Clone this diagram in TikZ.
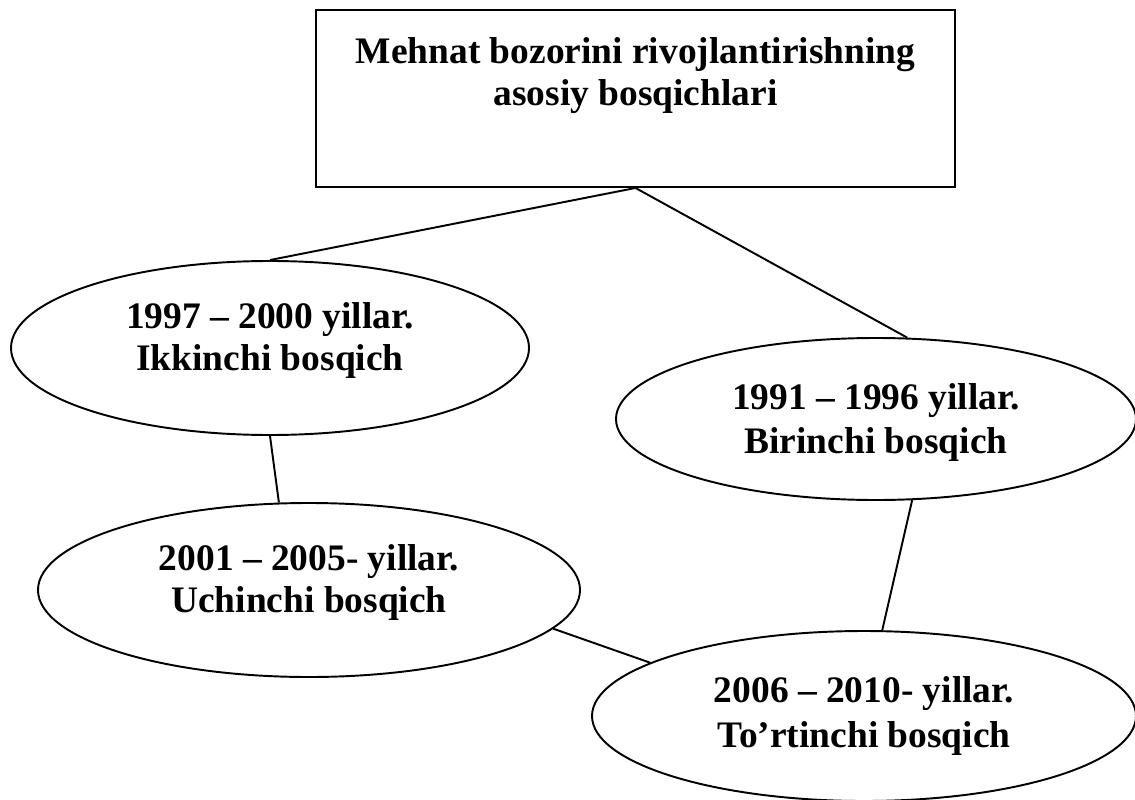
\documentclass[tikz,border=0pt]{standalone}
\usepackage{fontspec}
\setmainfont{Liberation Serif}
\usetikzlibrary{shapes.geometric}
\begin{document}
\begin{tikzpicture}[line width=1.1pt,
  stage/.style={ellipse,draw,inner sep=0pt,align=center,text depth=13pt,
    font=\bfseries\fontsize{21.3}{23.8}\selectfont}]
\useasboundingbox(0,0)rectangle(22.7,-16);
\node[draw,minimum width=12.78cm,minimum height=3.54cm,inner sep=0pt](frame)at(12.71,-1.97){};
\node[anchor=north,inner sep=0pt,align=center,font=\bfseries\fontsize{21.3}{23.6}\selectfont](title)at(12.71,-0.74){Mehnat bozorini rivojlantirishning\\asosiy bosqichlari};
\node[stage,minimum width=10.36cm,minimum height=3.48cm](ikki)at(5.40,-6.96){1997 -- 2000 yillar.\\Ikkinchi bosqich};
\node[stage,minimum width=10.40cm,minimum height=3.24cm,text depth=1pt,
  font=\bfseries\fontsize{21.3}{25}\selectfont](bir)at(17.52,-8.38){1991 -- 1996 yillar.\\Birinchi bosqich};
\node[stage,minimum width=10.84cm,minimum height=3.48cm](uch)at(6.18,-11.80){2001 -- 2005- yillar.\\Uchinchi bosqich};
\node[stage,minimum width=10.88cm,minimum height=3.40cm,text depth=4.5pt,
  font=\bfseries\fontsize{21.3}{25.5}\selectfont](tort)at(17.28,-14.32){2006 -- 2010- yillar.\\To’rtinchi bosqich};
\draw(frame.south)--(ikki.north);
\draw(frame.south)--(bir.69);
\draw(ikki.south)--(uch.109);
\draw(bir.-66)--(tort.78);
\draw(uch.-9)--(tort.166);
\end{tikzpicture}
\end{document}
